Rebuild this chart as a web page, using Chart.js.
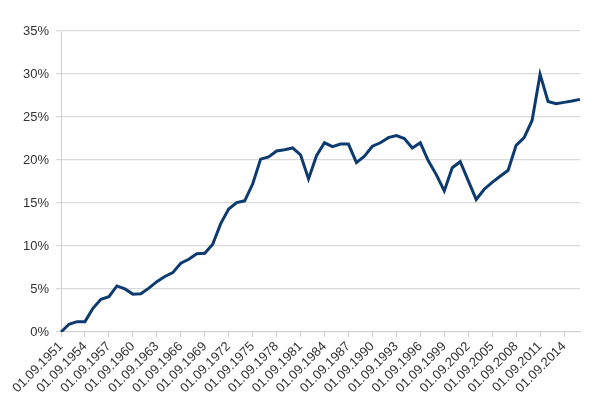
<!DOCTYPE html>
<html lang="en">
<head>
    <meta charset="UTF-8">
    <title>Share chart 1951-2016</title>
    <script src="https://cdn.jsdelivr.net/npm/chart.js"></script>
    <style>
        body {
            margin: 0;
            background: #fff;
        }
        #wrap {
            width: 600px;
            height: 408px;
        }
    </style>
</head>
<body>
    <div id="wrap">
        <canvas id="shareChart" width="600" height="408"></canvas>
    </div>
    <script>
        // one point per year, dated 1 September
        const years = [];
        for (let y = 1951; y <= 2016; y++) years.push('01.09.' + y);

        // values in percent
        const shareValues = [
            0.0, 0.9, 1.2, 1.2, 2.75, 3.8, 4.1, 5.35, 5.0, 4.4,
            4.45, 5.1, 5.85, 6.45, 6.9, 8.0, 8.45, 9.1, 9.15, 10.2,
            12.6, 14.3, 15.05, 15.25, 17.2, 20.1, 20.35, 21.05, 21.2, 21.4,
            20.6, 17.8, 20.5, 22.0, 21.55, 21.85, 21.85, 19.7, 20.45, 21.6,
            22.0, 22.6, 22.85, 22.5, 21.4, 22.0, 19.9, 18.3, 16.4, 19.1,
            19.8, 17.6, 15.4, 16.6, 17.4, 18.1, 18.8, 21.7, 22.6, 24.6,
            29.95, 26.8, 26.55, 26.7, 26.85, 27.05
        ];

        const yTicks = [0, 5, 10, 15, 20, 25, 30, 35];
        const labelEvery = 3;

        const ctx = document.getElementById('shareChart').getContext('2d');
        new Chart(ctx, {
            type: 'line',
            data: {
                labels: years,
                datasets: [{
                    data: shareValues,
                    borderColor: '#0d3a6f',
                    borderWidth: 3,
                    pointRadius: 0,
                    tension: 0,
                    fill: false
                }]
            },
            options: {
                responsive: false,
                animation: false,
                devicePixelRatio: 1,
                layout: {
                    padding: { left: 16, right: 20, top: 31, bottom: 10 }
                },
                plugins: {
                    legend: { display: false },
                    tooltip: { enabled: false }
                },
                scales: {
                    x: {
                        offset: false,
                        border: { color: '#d0d0d0', width: 1 },
                        grid: {
                            drawOnChartArea: false,
                            drawTicks: true,
                            tickLength: 5,
                            color: '#d0d0d0'
                        },
                        ticks: {
                            autoSkip: false,
                            maxRotation: 45,
                            minRotation: 45,
                            padding: 2,
                            color: '#333',
                            font: { family: 'Liberation Sans', size: 13 },
                            callback: function (val, i) {
                                return i % labelEvery === 0 ? years[i] : null;
                            }
                        }
                    },
                    y: {
                        min: yTicks[0],
                        max: yTicks[yTicks.length - 1],
                        border: { color: '#d0d0d0', width: 1 },
                        grid: {
                            color: '#d9d9d9',
                            lineWidth: 1.3,
                            tickLength: 5
                        },
                        afterBuildTicks: function (scale) {
                            scale.ticks = yTicks.map(v => ({ value: v }));
                        },
                        ticks: {
                            padding: 7,
                            color: '#333',
                            font: { family: 'Liberation Sans', size: 13 },
                            callback: v => v + '%'
                        }
                    }
                }
            }
        });
    </script>
</body>
</html>
